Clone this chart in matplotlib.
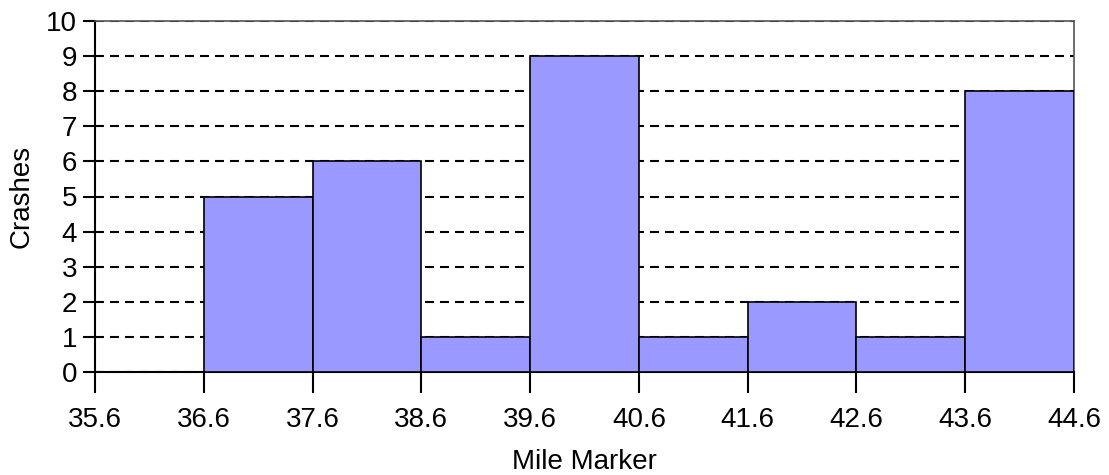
import matplotlib
matplotlib.use("Agg")
import matplotlib.pyplot as plt

bin_edges = [35.6, 36.6, 37.6, 38.6, 39.6, 40.6, 41.6, 42.6, 43.6, 44.6]
crashes = [0, 5, 6, 1, 9, 1, 2, 1, 8]
tick_labels = ["35.6", "36.6", "37.6", "38.6", "39.6", "40.6", "41.6", "42.6", "43.6", "44.6"]

plt.rcParams['font.family'] = ['Liberation Sans', 'DejaVu Sans']

fig = plt.figure(figsize=(11.09, 4.75), dpi=100)
ax = fig.add_axes([95/1109, 1 - 372/475, (1074-95)/1109, (372-21)/475])

lefts = bin_edges[:-1]
widths = [bin_edges[i+1] - bin_edges[i] for i in range(len(crashes))]
ax.bar(lefts, crashes, width=widths, align='edge', color='#9999FF',
       edgecolor='black', linewidth=1.2, zorder=3)

ax.set_xlim(bin_edges[0], bin_edges[-1])
ax.set_ylim(0, 10)
ax.set_xticks(bin_edges)
ax.set_xticklabels(tick_labels)
ax.set_yticks(range(0, 11))

ax.yaxis.grid(True, linestyle=(0, (4.3, 2.9)), color='black', linewidth=1.5, zorder=1)
ax.set_axisbelow(True)

for s in ['top', 'right']:
    ax.spines[s].set_color('#555555')
    ax.spines[s].set_linewidth(1.2)
for s in ['left', 'bottom']:
    ax.spines[s].set_color('black')
    ax.spines[s].set_linewidth(1.5)

ax.tick_params(axis='x', direction='out', length=15, width=1.5, labelsize=20, pad=10)
ax.tick_params(axis='y', direction='out', length=9, width=1.5, labelsize=20, pad=4)

ax.set_xlabel('Mile Marker', fontsize=20, labelpad=12)
ax.set_ylabel('Crashes', fontsize=20, labelpad=8)

fig.savefig('out.png', dpi=100)
